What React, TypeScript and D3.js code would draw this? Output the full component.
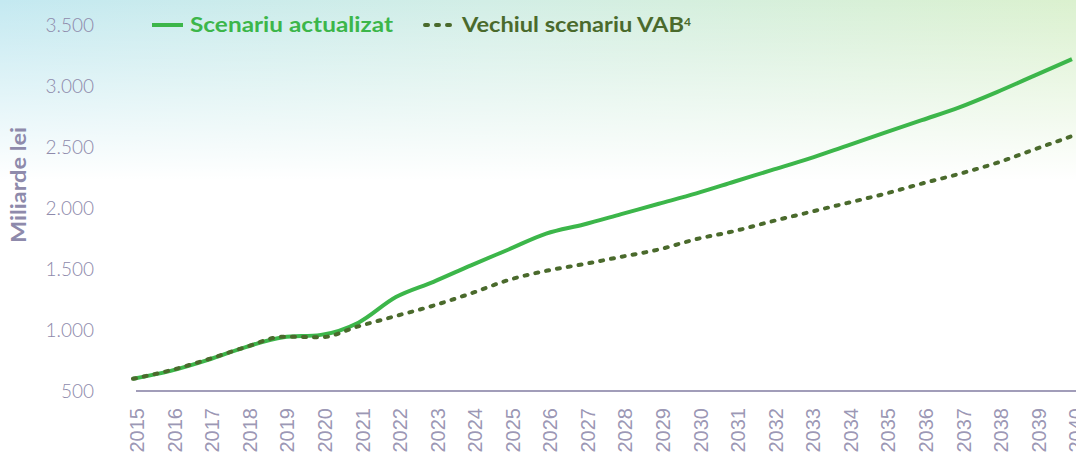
import React from "react";
import * as d3 from "d3";

const years: number[] = [
  2015, 2016, 2017, 2018, 2019, 2020, 2021, 2022, 2023, 2024, 2025, 2026, 2027,
  2028, 2029, 2030, 2031, 2032, 2033, 2034, 2035, 2036, 2037, 2038, 2039, 2040,
];
const actualizat: number[] = [
  600, 665, 755, 860, 940, 960, 1060, 1270, 1395, 1530, 1660, 1790, 1865,
  1950, 2035, 2120, 2215, 2310, 2405, 2510, 2615, 2720, 2825, 2950, 3085, 3220,
];
const vechiul: number[] = [
  600, 670, 760, 860, 945, 940, 1030, 1115, 1200, 1300, 1410, 1485, 1540,
  1600, 1660, 1745, 1810, 1890, 1965, 2040, 2115, 2200, 2280, 2370, 2480, 2590,
];
const yTicks: number[] = [500, 1000, 1500, 2000, 2500, 3000, 3500];
const yTickLabels: string[] = ["500", "1.000", "1.500", "2.000", "2.500", "3.000", "3.500"];
const seriesNames: string[] = ["Scenariu actualizat", "Vechiul scenariu VAB"];
const yTitle = "Miliarde lei";

const W = 1076;
const H = 455;
const GREEN = "#3cb64a";
const DARK = "#4a6a2c";
const AXIS = "#a19db9";
const TEXT = "#8e8aab";

export default function App() {
  const x = d3.scaleLinear().domain([2015, 2040]).range([133, 1072]);
  const y = d3.scaleLinear().domain([500, 3500]).range([391, 25]);
  const line = d3
    .line<number>()
    .x((_, i) => x(years[i]))
    .y((d) => y(d))
    .curve(d3.curveMonotoneX);

  return (
    <svg
      width={W}
      height={H}
      style={{ position: "absolute", left: 0, top: 0, display: "block" }}
    >
      <defs>
        <linearGradient id="bgH" x1="0" y1="0" x2="1" y2="0">
          <stop offset="0" stopColor="#c4e9f1" />
          <stop offset="0.45" stopColor="#d2eee6" />
          <stop offset="1" stopColor="#dbf1cf" />
        </linearGradient>
        <linearGradient id="fadeV" x1="0" y1="0" x2="0" y2="1">
          <stop offset="0" stopColor="#ffffff" stopOpacity="0" />
          <stop offset="1" stopColor="#ffffff" stopOpacity="1" />
        </linearGradient>
      </defs>
      <rect x={0} y={0} width={W} height={H} fill="#ffffff" />
      <rect x={0} y={0} width={W} height={180} fill="url(#bgH)" />
      <rect x={0} y={0} width={W} height={181} fill="url(#fadeV)" />

      {/* y tick labels */}
      {yTicks.map((t, i) => (
        <text
          key={t}
          x={94}
          y={y(t)}
          dy="0.36em"
          textAnchor="end"
          fontFamily="Lato, 'Open Sans', sans-serif"
          fontSize={19}
          fontWeight={300}
          fill={TEXT}
        >
          {yTickLabels[i]}
        </text>
      ))}

      {/* y title */}
      <text
        transform={`translate(26, ${185}) rotate(-90)`}
        textAnchor="middle"
        fontFamily="Lato, 'Open Sans', sans-serif"
        fontWeight={700}
        fontSize={21}
        fill={TEXT}
        textLength={116}
        lengthAdjust="spacingAndGlyphs"
      >
        {yTitle}
      </text>

      {/* axis baseline */}
      <line x1={136} x2={W} y1={391} y2={391} stroke={AXIS} strokeWidth={2} />

      {/* x labels */}
      {years.map((yr) => (
        <text
          key={yr}
          transform={`translate(${x(yr) + 4}, 408) rotate(-90)`}
          textAnchor="end"
          dy="0.36em"
          fontFamily="'Liberation Sans', Arial, sans-serif"
          fontSize={20}
          fill={TEXT}
          fillOpacity={0.9}
        >
          {yr}
        </text>
      ))}

      {/* series */}
      <path
        d={line(actualizat) || ""}
        fill="none"
        stroke={GREEN}
        strokeWidth={4}
        strokeLinejoin="round"
      />
      <path
        d={line(vechiul) || ""}
        fill="none"
        stroke={DARK}
        strokeWidth={4}
        strokeDasharray="3 8"
        strokeLinecap="round"
      />

      {/* legend */}
      <line x1={152} x2={183} y1={25} y2={25} stroke={GREEN} strokeWidth={4} />
      <text
        x={190}
        y={25}
        dy="0.35em"
        fontFamily="Lato, 'Open Sans', sans-serif"
        fontWeight={700}
        fontSize={21}
        fill={GREEN}
        textLength={203}
        lengthAdjust="spacingAndGlyphs"
      >
        {seriesNames[0]}
      </text>
      <line
        x1={425}
        x2={452}
        y1={25}
        y2={25}
        stroke={DARK}
        strokeWidth={4}
        strokeDasharray="3 8"
        strokeLinecap="round"
      />
      <text
        x={462}
        y={25}
        dy="0.35em"
        fontFamily="Lato, 'Open Sans', sans-serif"
        fontWeight={700}
        fontSize={21}
        fill={DARK}
      >
        <tspan textLength={222} lengthAdjust="spacingAndGlyphs">{seriesNames[1]}</tspan>
        <tspan fontSize={12} dy="-0.55em">4</tspan>
      </text>
    </svg>
  );
}
